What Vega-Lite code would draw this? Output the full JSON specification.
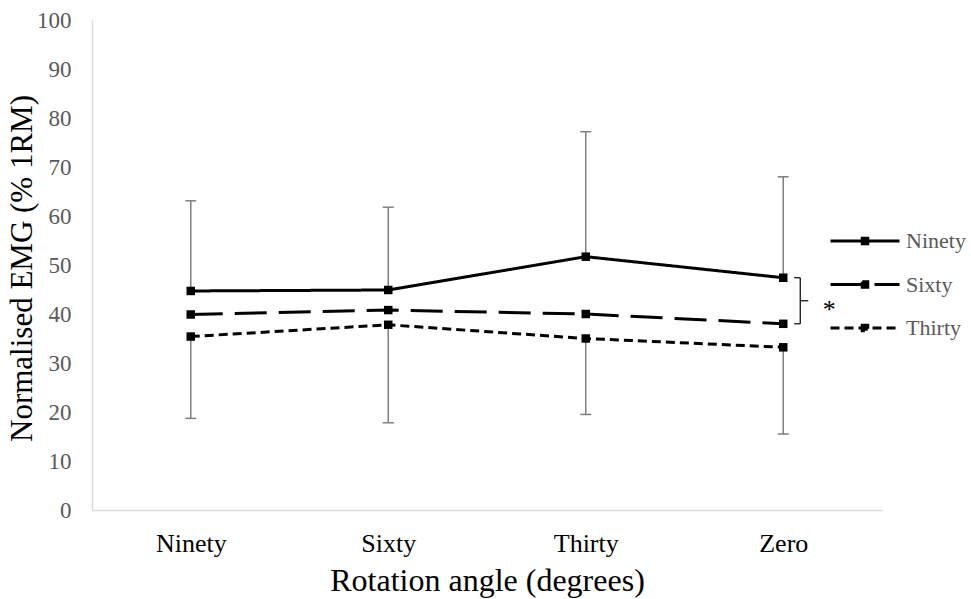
{
  "$schema": "https://vega.github.io/schema/vega-lite/v6.json",
  "width": 790,
  "height": 490,
  "autosize": "none",
  "padding": {"left": 92, "top": 20, "right": 89, "bottom": 89},
  "background": "white",
  "config": {"view": {"stroke": null}, "font": "Liberation Serif"},
  "datasets": {
    "lines": [
      {"angle": "Ninety", "series": "Ninety", "value": 44.7},
      {"angle": "Sixty", "series": "Ninety", "value": 44.9},
      {"angle": "Thirty", "series": "Ninety", "value": 51.7},
      {"angle": "Zero", "series": "Ninety", "value": 47.4},
      {"angle": "Ninety", "series": "Sixty", "value": 39.9},
      {"angle": "Sixty", "series": "Sixty", "value": 40.8},
      {"angle": "Thirty", "series": "Sixty", "value": 40.0},
      {"angle": "Zero", "series": "Sixty", "value": 38.0},
      {"angle": "Ninety", "series": "Thirty", "value": 35.4},
      {"angle": "Sixty", "series": "Thirty", "value": 37.8},
      {"angle": "Thirty", "series": "Thirty", "value": 35.0},
      {"angle": "Zero", "series": "Thirty", "value": 33.2}
    ],
    "err": [
      {"angle": "Ninety", "mean_top": 44.7, "upper": 63.1, "mean_bottom": 35.4, "lower": 18.7},
      {"angle": "Sixty", "mean_top": 44.9, "upper": 61.8, "mean_bottom": 37.8, "lower": 17.8},
      {"angle": "Thirty", "mean_top": 51.7, "upper": 77.2, "mean_bottom": 35.0, "lower": 19.5},
      {"angle": "Zero", "mean_top": 47.4, "upper": 68.0, "mean_bottom": 33.2, "lower": 15.5}
    ]
  },
  "encoding": {
    "x": {
      "field": "angle",
      "type": "nominal",
      "sort": ["Ninety", "Sixty", "Thirty", "Zero"],
      "scale": {"type": "point", "padding": 0.5},
      "axis": {
        "title": "Rotation angle (degrees)",
        "labelAngle": 0,
        "domainColor": "#d9d9d9",
        "domainWidth": 1.5,
        "ticks": false,
        "labelFontSize": 26,
        "labelColor": "#000000",
        "labelPadding": 20,
        "titleFontSize": 32,
        "titleFontWeight": "normal",
        "titleColor": "#000000",
        "titleBaseline": "alphabetic",
        "titleY": 80
      }
    }
  },
  "layer": [
    {
      "data": {"name": "err"},
      "mark": {"type": "rule", "color": "#7f7f7f", "strokeWidth": 1.5},
      "encoding": {
        "y": {"field": "mean_top", "type": "quantitative", "title": "Normalised EMG (% 1RM)",
          "scale": {"domain": [0, 100], "nice": false},
          "axis": {
            "values": [0, 10, 20, 30, 40, 50, 60, 70, 80, 90, 100],
            "grid": false, "ticks": false,
            "domainColor": "#d9d9d9", "domainWidth": 1.5,
            "labelFontSize": 23, "labelColor": "#595959", "labelPadding": 21,
            "titleFontSize": 31, "titleFontWeight": "normal", "titleColor": "#000000",
            "titleAngle": -90, "titleX": -70, "titleY": 248,
            "titleAlign": "center", "titleBaseline": "middle"
          }},
        "y2": {"field": "upper"}
      }
    },
    {
      "data": {"name": "err"},
      "mark": {"type": "rule", "color": "#7f7f7f", "strokeWidth": 1.5},
      "encoding": {
        "y": {"field": "mean_bottom", "type": "quantitative", "title": "Normalised EMG (% 1RM)"},
        "y2": {"field": "lower"}
      }
    },
    {
      "data": {"name": "err"},
      "mark": {"type": "tick", "color": "#7f7f7f", "size": 11, "thickness": 1.5, "opacity": 1},
      "encoding": {
        "y": {"field": "upper", "type": "quantitative", "title": "Normalised EMG (% 1RM)"}
      }
    },
    {
      "data": {"name": "err"},
      "mark": {"type": "tick", "color": "#7f7f7f", "size": 11, "thickness": 1.5, "opacity": 1},
      "encoding": {
        "y": {"field": "lower", "type": "quantitative", "title": "Normalised EMG (% 1RM)"}
      }
    },
    {
      "data": {"name": "lines"},
      "mark": {"type": "line", "color": "#000000", "strokeWidth": 3},
      "encoding": {
        "y": {"field": "value", "type": "quantitative", "title": "Normalised EMG (% 1RM)"},
        "strokeDash": {
          "field": "series",
          "type": "nominal",
          "scale": {"domain": ["Ninety", "Sixty", "Thirty"], "range": [[1, 0], [32, 12], [9, 5]]},
          "legend": {
            "title": null,
            "orient": "none",
            "legendX": 754,
            "legendY": 202,
            "padding": 0,
            "rowPadding": 13.5,
            "symbolType": "M-2,0H2M-0.16,-0.16H0.16V0.16H-0.16Z",
            "symbolSize": 1190,
            "symbolStrokeWidth": 3,
            "symbolStrokeColor": "#000000",
            "symbolFillColor": "#000000",
            "symbolOpacity": 1,
            "labelFontSize": 22,
            "labelFont": "Liberation Serif",
            "labelColor": "#595959",
            "labelOffset": 22
          }
        }
      }
    },
    {
      "data": {"name": "lines"},
      "mark": {"type": "point", "shape": "square", "size": 72, "filled": true, "color": "#000000", "opacity": 1},
      "encoding": {
        "y": {"field": "value", "type": "quantitative", "title": "Normalised EMG (% 1RM)"}
      }
    },
    {
      "data": {"name": "lines"},
      "transform": [
        {"filter": "datum.angle === 'Zero' && datum.series !== 'Thirty'"},
        {"aggregate": [
          {"op": "max", "field": "value", "as": "top"},
          {"op": "min", "field": "value", "as": "bottom"},
          {"op": "mean", "field": "value", "as": "mid"}
        ], "groupby": ["angle"]}
      ],
      "layer": [
        {
          "mark": {"type": "rule", "color": "#000000", "strokeWidth": 1.2, "xOffset": 17},
          "encoding": {
            "y": {"field": "top", "type": "quantitative", "title": "Normalised EMG (% 1RM)"},
            "y2": {"field": "bottom"}
          }
        },
        {
          "mark": {"type": "tick", "color": "#000000", "size": 6, "thickness": 1.2, "xOffset": 14, "opacity": 1},
          "encoding": {"y": {"field": "top", "type": "quantitative", "title": "Normalised EMG (% 1RM)"}}
        },
        {
          "mark": {"type": "tick", "color": "#000000", "size": 6, "thickness": 1.2, "xOffset": 14, "opacity": 1},
          "encoding": {"y": {"field": "bottom", "type": "quantitative", "title": "Normalised EMG (% 1RM)"}}
        },
        {
          "mark": {"type": "tick", "color": "#000000", "size": 8, "thickness": 1.2, "xOffset": 21, "opacity": 1},
          "encoding": {"y": {"field": "mid", "type": "quantitative", "title": "Normalised EMG (% 1RM)"}}
        },
        {
          "mark": {"type": "text", "text": "*", "fontSize": 26, "font": "Liberation Serif", "color": "#000000", "xOffset": 46, "dy": 9, "baseline": "middle"},
          "encoding": {"y": {"field": "mid", "type": "quantitative", "title": "Normalised EMG (% 1RM)"}}
        }
      ]
    }
  ]
}
